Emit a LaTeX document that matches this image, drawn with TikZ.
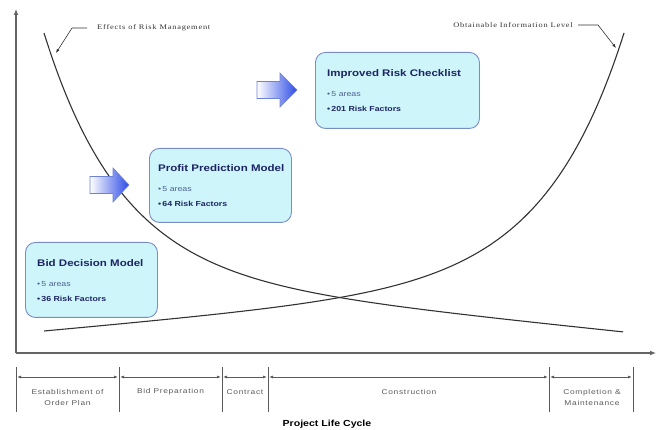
\documentclass[tikz,border=0pt]{standalone}
\usepackage{fontspec}
\setmainfont[FakeStretch=1.2]{Liberation Sans}
\newfontfamily\serifc[FakeStretch=1.2,LetterSpace=11]{Liberation Serif}
\newfontfamily\spaced[FakeStretch=1.2,LetterSpace=10]{Liberation Sans}
\usetikzlibrary{arrows.meta}
\definecolor{boxfill}{RGB}{206,245,250}
\definecolor{boxline}{RGB}{120,140,200}
\definecolor{navy}{RGB}{28,36,100}
\definecolor{navylight}{RGB}{75,95,145}
\definecolor{axisgray}{RGB}{100,100,100}
\definecolor{curvegray}{RGB}{50,50,50}
\definecolor{arrblue}{RGB}{45,75,230}
\definecolor{arrline}{RGB}{110,130,210}
\definecolor{tlgray}{RGB}{90,90,90}
\begin{document}
\begin{tikzpicture}[x=1pt,y=-1pt,
  mbox/.style={draw=boxline, line width=0.9pt, fill=boxfill, rounded corners=10pt, anchor=north west, inner sep=0pt},
  ttl/.style={anchor=base west, inner sep=0pt, text=navy, font=\fontsize{9.6}{11}\selectfont\bfseries},
  blt/.style={anchor=base west, inner sep=0pt, text=navylight, font=\fontsize{7.3}{8}\selectfont},
  bltb/.style={anchor=base west, inner sep=0pt, text=navy, font=\fontsize{7.3}{8}\selectfont\bfseries},
  curve/.style={draw=curvegray, line width=1.1pt},
  axis/.style={draw=axisgray, line width=1.3pt, -{Latex[length=6pt,width=5pt]}},
  leader/.style={draw=curvegray, line width=0.6pt, -{Latex[length=4pt,width=3pt]}},
  clabel/.style={inner sep=0pt, text=curvegray, font=\fontsize{7}{8}\serifc},
  blockarr/.style={draw=arrline, line width=0.6pt, left color=white, right color=arrblue},
  tickline/.style={draw=tlgray, line width=0.8pt},
  seg/.style={draw=tlgray, line width=0.8pt, {Latex[length=4pt,width=3pt]}-{Latex[length=4pt,width=3pt]}, shorten <=1pt, shorten >=1pt},
  tltext/.style={inner sep=0pt, text=tlgray, align=center, font=\fontsize{7}{11}\spaced}
]
\useasboundingbox (0,0) rectangle (656,430);

% axes
\coordinate (O) at (16,353);
\coordinate (ytop) at (16,9);
\coordinate (xend) at (656,353);
\draw[axis] (O) -- (ytop);
\draw[axis] (O) -- (xend);

% curves
\draw[curve] plot[domain=44:623, samples=200, smooth] (\x, {332 - 239*exp(-0.013*(\x-44)) - 60*(1-(\x-44)/579)});
\draw[curve] plot[domain=44:624, samples=200, smooth] (\x, {331 - 0.09*(\x-44) - 0.175*(exp(0.0125*(\x-44))-1)});

% curve labels
\node[clabel, anchor=west] (eff) at (97,28) {Effects of Risk Management};
\coordinate (effbend) at (72,28);
\coordinate (efftip) at (56,53);
\draw[leader] ([xshift=-10pt]eff.west) -- (effbend) -- (efftip);

\node[clabel, anchor=east] (obt) at (573,25) {Obtainable Information Level};
\coordinate (obtbend) at (598,25);
\coordinate (obttip) at (616,48);
\draw[leader] ([xshift=5pt]obt.east) -- (obtbend) -- (obttip);

% block arrows
\begin{scope}[shift={(257,90)}]
\draw[blockarr] (0,-8.5) -- (23,-8.5) -- (23,-17) -- (40,0) -- (23,17) -- (23,8.5) -- (0,8.5) -- cycle;
\end{scope}
\begin{scope}[shift={(90,185)}]
\draw[blockarr] (0,-8.5) -- (23,-8.5) -- (23,-17) -- (39,0) -- (23,17) -- (23,8.5) -- (0,8.5) -- cycle;
\end{scope}

% boxes
\node[mbox, minimum width=132pt, minimum height=75pt] (bid) at (25,242) {};
\node[ttl] (bidt) at (37,267) {Bid Decision Model};
\node[blt] (bida) at (37,286.5) {\textbullet\,5 areas};
\node[bltb] (bidf) at (37,302) {\textbullet\,36 Risk Factors};

\node[mbox, minimum width=142pt, minimum height=74pt] (ppm) at (149,148) {};
\node[ttl] (ppmt) at (158,172) {Profit Prediction Model};
\node[blt] (ppma) at (158,192) {\textbullet\,5 areas};
\node[bltb] (ppmf) at (158,207) {\textbullet\,64 Risk Factors};

\node[mbox, minimum width=164pt, minimum height=76pt] (irc) at (315,52) {};
\node[ttl] (irct) at (327,77) {Improved Risk Checklist};
\node[blt] (irca) at (327,97) {\textbullet\,5 areas};
\node[bltb] (ircf) at (327,112) {\textbullet\,201 Risk Factors};

% timeline
\foreach \i/\x in {1/16,2/119,3/222,4/268,5/549,6/633} {
  \coordinate (t\i) at (\x,377);
  \draw[tickline] (\x,367) -- (\x,412);
}
\draw[seg] (t1) -- (t2);
\draw[seg] (t2) -- (t3);
\draw[seg] (t3) -- (t4);
\draw[seg] (t4) -- (t5);
\draw[seg] (t5) -- (t6);

\node[tltext] (l1) at (67.5,397.5) {Establishment of\\Order Plan};
\node[tltext] (l2) at (170.5,392) {Bid Preparation};
\node[tltext] (l3) at (245,392) {Contract};
\node[tltext] (l4) at (409,392) {Construction};
\node[tltext] (l5) at (592,397.5) {Completion \&\\Maintenance};

\node[inner sep=0pt, font=\fontsize{8.8}{10}\selectfont\bfseries] (plc) at (327,424) {Project Life Cycle};
\end{tikzpicture}
\end{document}
